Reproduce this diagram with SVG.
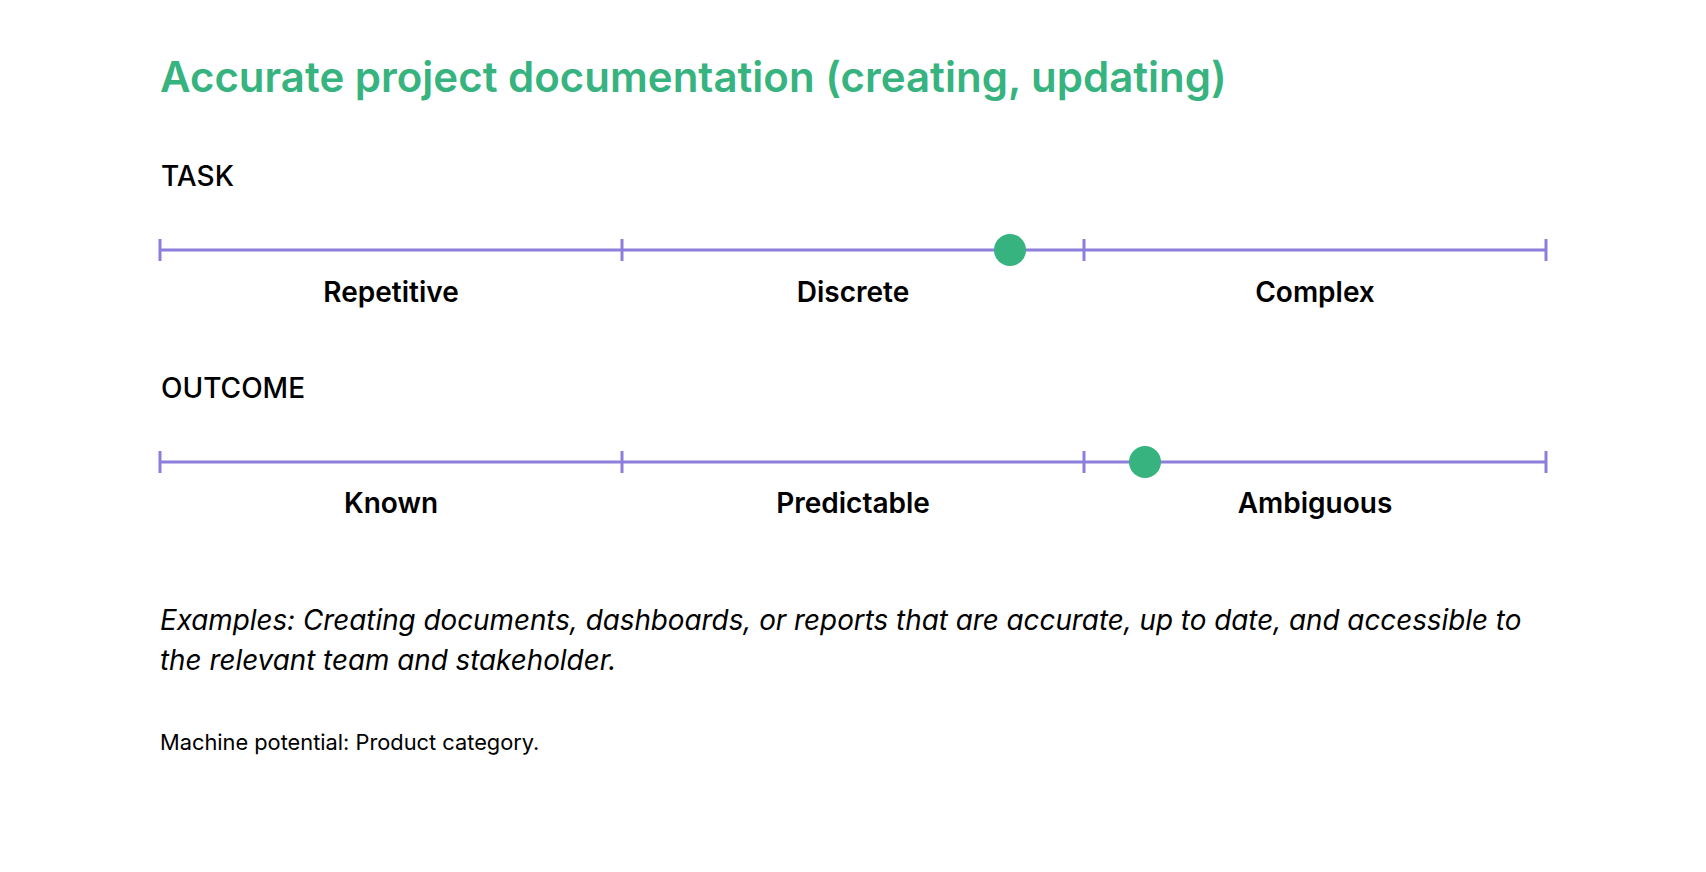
<svg xmlns="http://www.w3.org/2000/svg" width="1706" height="872" viewBox="0 0 1706 872">
<style>
.title{font-family:Inter,"Liberation Sans",sans-serif;font-weight:600;font-size:42px;fill:#36b37e}
.head{font-family:Inter,"Liberation Sans",sans-serif;font-weight:500;font-size:28px;fill:#000}
.lbl{font-family:Inter,"Liberation Sans",sans-serif;font-weight:600;font-size:28px;fill:#000;text-anchor:middle}
.ex{font-family:Inter,"Liberation Sans",sans-serif;font-style:italic;font-size:27.8px;fill:#000}
.note{font-family:Inter,"Liberation Sans",sans-serif;font-size:21.8px;fill:#000}
.axis{stroke:#8b7fdb;stroke-width:3;fill:none}
.dot{fill:#36b37e}
</style>
<rect width="1706" height="872" fill="#fff"/>
<text class="title" x="160" y="92">Accurate project documentation (creating, updating)</text>

<g id="task">
<text class="head" x="161" y="186">TASK</text>
<g id="task-axis" class="axis">
<line x1="160" y1="250" x2="1546" y2="250"/>
<line x1="160" y1="239" x2="160" y2="261"/>
<line x1="622" y1="239" x2="622" y2="261"/>
<line x1="1084" y1="239" x2="1084" y2="261"/>
<line x1="1546" y1="239" x2="1546" y2="261"/>
</g>
<circle class="dot" cx="1010" cy="250" r="16"/>
<text class="lbl" x="391" y="302">Repetitive</text>
<text class="lbl" x="853" y="302">Discrete</text>
<text class="lbl" x="1315" y="302">Complex</text>
</g>

<g id="outcome">
<text class="head" x="161" y="398">OUTCOME</text>
<g id="outcome-axis" class="axis">
<line x1="160" y1="462" x2="1546" y2="462"/>
<line x1="160" y1="451" x2="160" y2="473"/>
<line x1="622" y1="451" x2="622" y2="473"/>
<line x1="1084" y1="451" x2="1084" y2="473"/>
<line x1="1546" y1="451" x2="1546" y2="473"/>
</g>
<circle class="dot" cx="1145" cy="462" r="16"/>
<text class="lbl" x="391" y="513">Known</text>
<text class="lbl" x="853" y="513">Predictable</text>
<text class="lbl" x="1315" y="513">Ambiguous</text>
</g>

<g id="examples">
<text class="ex" x="160" y="630">Examples: Creating documents, dashboards, or reports that are accurate, up to date, and accessible to</text>
<text class="ex" x="160" y="670">the relevant team and stakeholder.</text>
</g>
<text class="note" x="160" y="750">Machine potential: Product category.</text>
</svg>
